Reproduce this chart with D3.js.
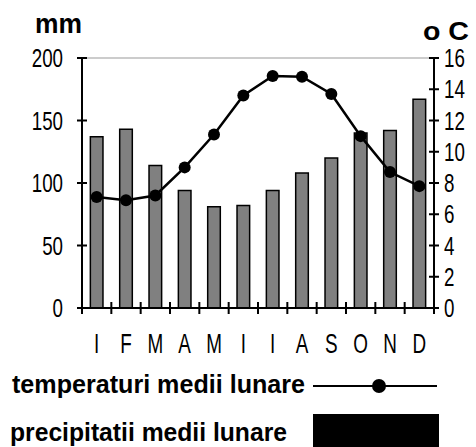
<!DOCTYPE html>
<html><head><meta charset="utf-8">
<script src="https://cdn.jsdelivr.net/npm/d3@7"></script>
<style>body{margin:0;background:#fff}svg{display:block}text{font-family:"Liberation Sans",Arial,sans-serif}</style>
</head><body>
<svg id="c" width="476" height="447"></svg>
<script>
const months = ["I","F","M","A","M","I","I","A","S","O","N","D"];
const precipitation = [137,143,114,94,81,82,94,108,120,140,142,167];
const temperature = [7.1,6.9,7.2,9.0,11.1,13.6,14.85,14.8,13.7,11.0,8.7,7.8];
const mmTicks = [0,50,100,150,200];
const tempTicks = [0,2,4,6,8,10,12,14,16];
const labels = {left:"mm", right:"o C", temp:"temperaturi medii lunare", prec:"precipitatii medii lunare"};

const svg = d3.select("#c");
const L = 82, R = 434, T = 58, B = 308;
const x = d3.scaleBand().domain(d3.range(12)).range([L, R]).padding(0);
const yL = d3.scaleLinear().domain([0,200]).range([B, T]);
const yR = d3.scaleLinear().domain([0,16]).range([B, T]);
const bw = x.bandwidth() * 0.43;

// top grid line
svg.append("line").attr("x1", L).attr("x2", R).attr("y1", yL(200)).attr("y2", yL(200))
  .attr("stroke", "#9a9a9a").attr("stroke-width", 1.2);

// bars
svg.selectAll("rect.bar").data(precipitation).enter().append("rect")
  .attr("class","bar")
  .attr("x", (d,i) => x(i) + x.bandwidth()/2 - bw/2)
  .attr("width", bw)
  .attr("y", d => yL(d))
  .attr("height", d => yL(0) - yL(d))
  .attr("fill", "#808080").attr("stroke", "#000").attr("stroke-width", 1.5);

// axes lines
const ax = svg.append("g").attr("stroke", "#000").attr("stroke-width", 2);
ax.append("line").attr("x1", L).attr("x2", L).attr("y1", T).attr("y2", B);
ax.append("line").attr("x1", R).attr("x2", R).attr("y1", T).attr("y2", B);
ax.append("line").attr("x1", L-4).attr("x2", R+4).attr("y1", B).attr("y2", B);

// left ticks
mmTicks.forEach(t => {
  ax.append("line").attr("x1", L-5).attr("x2", L+5).attr("y1", yL(t)).attr("y2", yL(t));
  svg.append("text").attr("transform", `translate(63,${yL(t)}) scale(0.75,1)`)
    .attr("text-anchor","end").attr("dy","0.36em").attr("font-size",25).attr("fill","#000").text(t);
});
// right ticks
tempTicks.forEach(t => {
  ax.append("line").attr("x1", R-5).attr("x2", R+5).attr("y1", yR(t)).attr("y2", yR(t));
  svg.append("text").attr("transform", `translate(444,${yR(t)}) scale(0.75,1)`)
    .attr("text-anchor","start").attr("dy","0.36em").attr("font-size",25).attr("fill","#000").text(t);
});
// x ticks at band boundaries
d3.range(13).forEach(i => {
  const xx = L + i * x.step();
  ax.append("line").attr("x1", xx).attr("x2", xx).attr("y1", B-6).attr("y2", B+6);
});
// x labels
months.forEach((m,i) => {
  svg.append("text").attr("transform", `translate(${x(i)+x.bandwidth()/2},353) scale(0.7,1)`)
    .attr("text-anchor","middle").attr("font-size",27).attr("fill","#000").text(m);
});

// temperature line
const line = d3.line().x((d,i) => x(i) + x.bandwidth()/2).y(d => yR(d));
svg.append("path").datum(temperature).attr("d", line).attr("fill","none").attr("stroke","#000").attr("stroke-width",2.5);
svg.selectAll("circle.pt").data(temperature).enter().append("circle")
  .attr("class","pt").attr("cx",(d,i)=>x(i)+x.bandwidth()/2).attr("cy",d=>yR(d)).attr("r",6).attr("fill","#000");

// titles
svg.append("text").attr("x",35).attr("y",33).attr("font-size",27).attr("font-weight","bold")
  .attr("textLength",47).attr("lengthAdjust","spacingAndGlyphs").text(labels.left);
svg.append("text").attr("x",423).attr("y",40).attr("font-size",25).attr("font-weight","bold")
  .attr("textLength",46).attr("lengthAdjust","spacingAndGlyphs").text(labels.right);

// legend
svg.append("text").attr("x",12).attr("y",393).attr("font-size",25).attr("font-weight","bold")
  .attr("textLength",293).attr("lengthAdjust","spacingAndGlyphs").text(labels.temp);
svg.append("line").attr("x1",313).attr("x2",437).attr("y1",386).attr("y2",386).attr("stroke","#000").attr("stroke-width",2);
svg.append("circle").attr("cx",379).attr("cy",386).attr("r",7).attr("fill","#000");
svg.append("text").attr("x",10).attr("y",441).attr("font-size",25).attr("font-weight","bold")
  .attr("textLength",277).attr("lengthAdjust","spacingAndGlyphs").text(labels.prec);
svg.append("rect").attr("x",313).attr("y",414).attr("width",126).attr("height",40).attr("fill","#000");
</script>
</body></html>
